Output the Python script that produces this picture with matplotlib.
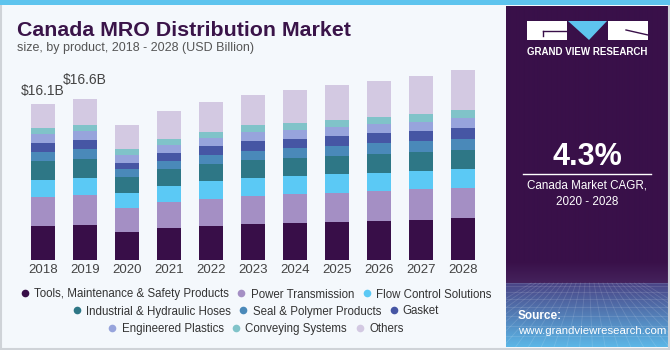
import matplotlib.pyplot as plt
import numpy as np
from matplotlib.colors import to_rgb
from matplotlib.lines import Line2D
from matplotlib.patches import Polygon, Rectangle

plt.rcParams["font.family"] = ["Liberation Sans", "DejaVu Sans"]

years = ["2018", "2019", "2020", "2021", "2022", "2023", "2024", "2025", "2026", "2027", "2028"]
segments = [
    "Tools, Maintenance & Safety Products",
    "Power Transmission",
    "Flow Control Solutions",
    "Industrial & Hydraulic Hoses",
    "Seal & Polymer Products",
    "Gasket",
    "Engineered Plastics",
    "Conveying Systems",
    "Others",
]
colors = ["#380e48", "#a48fc4", "#5bc9f5", "#2e7786", "#4a89b9",
          "#4656a4", "#97a4dc", "#80c3c9", "#d3c9e2"]

# USD billion
tools = [3.54, 3.62, 2.92, 3.27, 3.54, 3.69, 3.79, 3.89, 4.00, 4.10, 4.34]
power = [2.93, 3.10, 2.48, 2.72, 2.76, 2.92, 3.06, 3.03, 3.13, 3.20, 3.10]
flow = [1.82, 1.79, 1.49, 1.65, 1.83, 1.89, 1.80, 1.93, 1.83, 1.86, 1.96]
hoses = [1.96, 1.93, 1.68, 1.76, 1.76, 1.86, 1.92, 1.89, 2.02, 2.02, 1.93]
seal = [0.93, 1.03, 0.83, 0.86, 0.99, 0.93, 1.03, 1.06, 1.10, 1.10, 1.20]
gasket = [0.87, 0.93, 0.65, 0.76, 0.90, 1.00, 0.93, 1.03, 1.03, 1.06, 1.10]
plastics = [0.93, 0.96, 0.76, 0.86, 0.86, 0.90, 0.93, 0.90, 0.93, 0.93, 1.00]
conveying = [0.65, 0.62, 0.65, 0.62, 0.62, 0.72, 0.72, 0.75, 0.75, 0.80, 0.83]
others = [2.45, 2.62, 2.45, 2.86, 3.07, 3.16, 3.41, 3.61, 3.66, 3.93, 4.19]
series = [tools, power, flow, hoses, seal, gasket, plastics, conveying, others]

labels = {0: "$16.1B", 1: "$16.6B"}

W, H = 670, 350
fig = plt.figure(figsize=(W / 100, H / 100), dpi=100)
fig.patch.set_facecolor("#f4f8fc")


def fx(px):
    return px / W


def fy(py):
    return 1 - py / H


# outer border and top stripe
fig.add_artist(Rectangle((0.001, 0.002), 0.998, 0.996, transform=fig.transFigure,
                         fill=False, edgecolor="#cfd3d8", linewidth=1.5))
fig.add_artist(Rectangle((0, fy(5)), 1, 5 / H, transform=fig.transFigure,
                         facecolor="#5ec4ee", edgecolor="none"))

fig.text(fx(17), fy(30), "Canada MRO Distribution Market", fontsize=15.4,
         fontweight="bold", color="#3a1449", va="center", ha="left")
fig.text(fx(17), fy(48.5), "size, by product, 2018 - 2028 (USD Billion)",
         fontsize=9, color="#555555", va="center", ha="left")

# chart
ax = fig.add_axes([fx(15), fy(260), fx(491 - 15), 200 / H])
ax.set_facecolor("none")
x = np.arange(len(years))
bottom = np.zeros(len(years))
for vals, c in zip(series, colors):
    ax.bar(x, vals, 0.57, bottom=bottom, color=c, edgecolor="none")
    bottom += np.array(vals)
for i, txt in labels.items():
    off = 13 if i == 0 else 19
    ax.annotate(txt, (x[i], bottom[i]), xytext=(0, off), textcoords="offset pixels",
                ha="center", va="center", fontsize=10, color="#444444")

ax.set_xlim(-0.667, 10.667)
ax.set_ylim(0, 200 / 9.68)
ax.set_xticks(x)
ax.set_xticklabels(years, fontsize=9.5, color="#444444")
ax.tick_params(axis="x", length=0, pad=3)
ax.set_yticks([])
for s in ax.spines.values():
    s.set_visible(False)

# legend, three centred rows
rows = [[0, 1, 2], [3, 4, 5], [6, 7, 8]]
row_y = [294.5, 311.5, 329]
for r, py in zip(rows, row_y):
    handles = [Line2D([], [], marker="o", linestyle="none", markersize=5.5,
                      markerfacecolor=colors[k], markeredgecolor="none") for k in r]
    fig.legend(handles, [segments[k] for k in r], loc="center",
               bbox_to_anchor=(fx(255), fy(py)), ncol=3, frameon=False,
               fontsize=8.3, handletextpad=0.3, columnspacing=0.6,
               handlelength=1.0, borderpad=0, labelcolor="#333333")

# right panel
px0, py0, pw, ph = 506, 6, 164, 341
pan = fig.add_axes([fx(px0), fy(py0 + ph), fx(pw), ph / H])
pan.set_xlim(0, pw)
pan.set_ylim(ph, 0)
pan.axis("off")

grad = np.zeros((ph, 1, 3))
top_c = np.array(to_rgb("#391049"))
mid_c = np.array(to_rgb("#45235d"))
grid_a = np.array(to_rgb("#4a4586"))
grid_b = np.array(to_rgb("#5cb8e8"))
for row in range(ph):
    if row < 255:
        grad[row, 0] = top_c
    elif row < 277:
        t = (row - 255) / 22
        grad[row, 0] = top_c + (mid_c - top_c) * t
    else:
        t = (row - 277) / (ph - 277)
        grad[row, 0] = grid_a + (grid_b - grid_a) * t
pan.imshow(grad, extent=(0, pw, ph, 0), aspect="auto", interpolation="bilinear")

# faint perspective grid on the bottom of the panel
for gx in np.linspace(-80, 240, 26):
    pan.plot([82 + (gx - 82) * 0.35, gx], [277, ph], color="white", alpha=0.13, lw=0.6)
for k in range(9):
    gy = 277 + (ph - 277) * (k / 8) ** 1.4
    pan.plot([0, pw], [gy, gy], color="white", alpha=0.13, lw=0.6)

# logo
lx = 527 - px0
ly = 21 - py0
pan.add_patch(Rectangle((lx, ly), 40, 19, facecolor="white", edgecolor="none"))
pan.plot([lx + 16, lx + 40], [ly + 10, ly + 10], color="#391049", lw=1)
pan.plot([lx + 16, lx + 16], [ly + 10, ly + 15], color="#391049", lw=1)
pan.add_patch(Polygon([(lx + 41, ly), (lx + 80, ly), (lx + 62, ly + 19)],
                      facecolor="#5ec4ee", edgecolor="none"))
pan.add_patch(Rectangle((lx + 81, ly), 40, 19, facecolor="white", edgecolor="none"))
pan.plot([lx + 99, lx + 121], [ly + 9, ly + 14], color="#391049", lw=1)
pan.text(lx + 60.5, 51.7 - py0, "GRAND VIEW RESEARCH", color="white", fontsize=7,
         fontweight="bold", ha="center", va="center")

pan.text(587 - px0, 157 - py0, "4.3%", color="white", fontsize=22,
         fontweight="bold", ha="center", va="center")
pan.plot([523 - px0, 651 - px0], [173.5 - py0, 173.5 - py0], color="white", lw=1)
pan.text(587 - px0, 185.5 - py0, "Canada Market CAGR,", color="white", fontsize=8.4,
         ha="center", va="center")
pan.text(587 - px0, 202 - py0, "2020 - 2028", color="white", fontsize=8.4,
         ha="center", va="center")
pan.text(518 - px0, 316 - py0, "Source:", color="white", fontsize=8.5,
         fontweight="bold", ha="left", va="center")
pan.text(518 - px0, 331 - py0, "www.grandviewresearch.com", color="white",
         fontsize=8.2, ha="left", va="center")

fig.savefig("out.png", dpi=100, facecolor=fig.get_facecolor())
